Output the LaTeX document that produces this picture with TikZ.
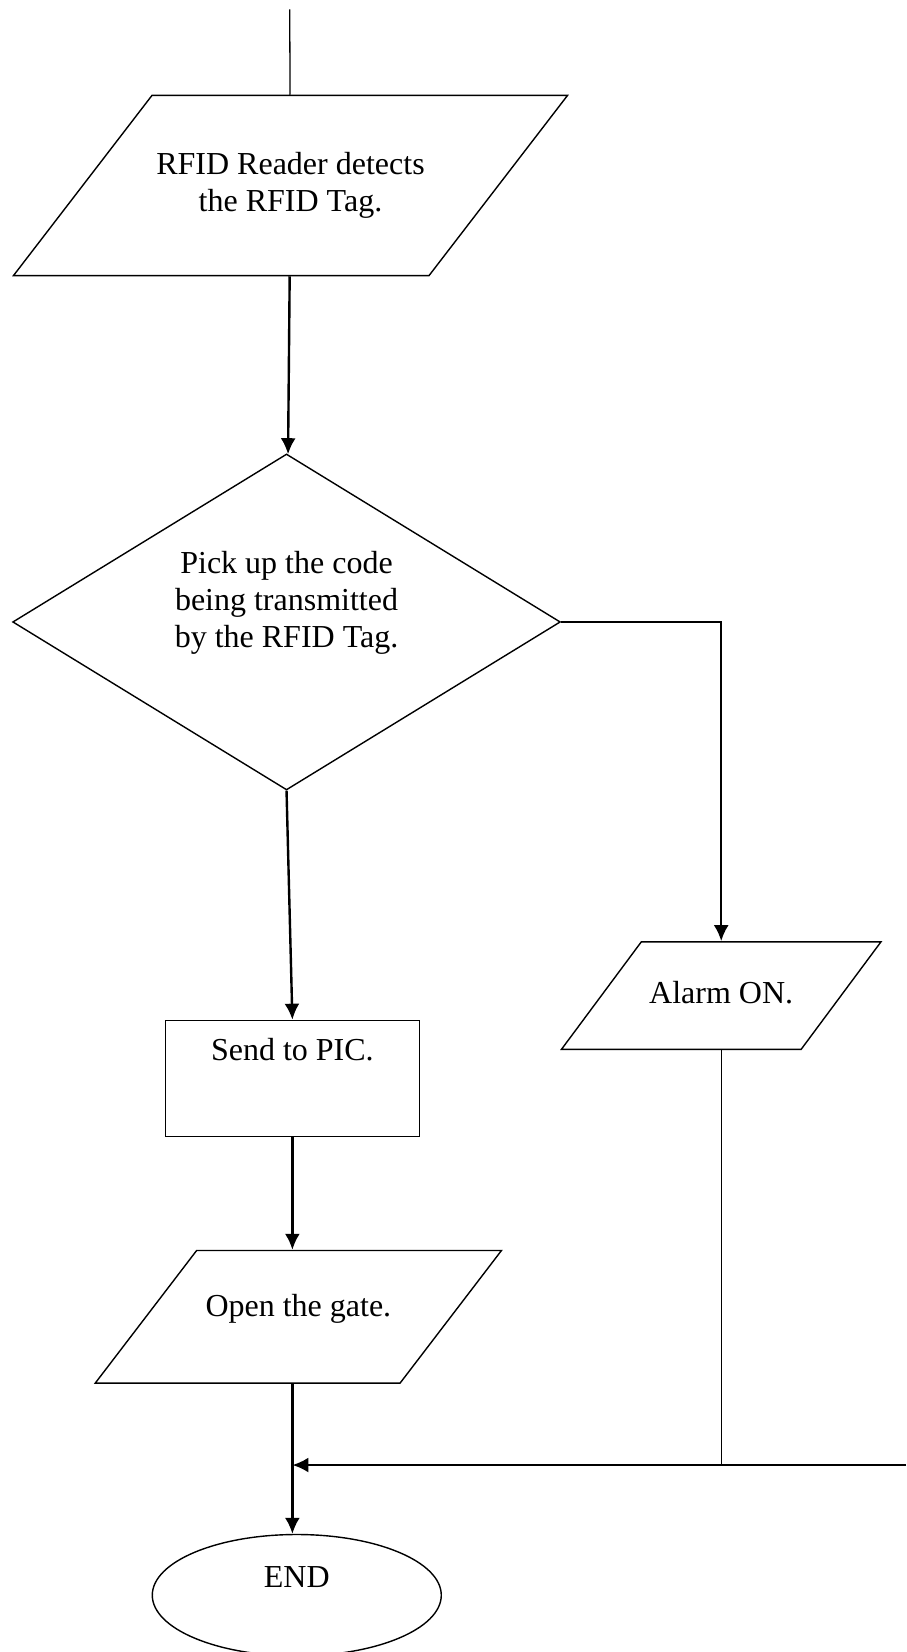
\documentclass[tikz,border=0pt]{standalone}
\usepackage{fontspec}
\setmainfont{Liberation Serif}
\usetikzlibrary{arrows.meta, positioning, shapes.geometric}

\begin{document}
\begin{tikzpicture}[
  x=1pt, y=1pt,
  every node/.style={font=\fontsize{32}{37}\selectfont, align=center, inner sep=4pt, line width=1.4pt},
  io/.style={draw, trapezium, trapezium stretches body},
  decision/.style={draw, diamond, aspect=1.63},
  process/.style={draw, rectangle},
  terminal/.style={draw, ellipse},
  arrow/.style={-{Latex[length=16pt, width=15pt]}, line width=2.4pt},
  link/.style={line width=1.3pt}
]
\path[use as bounding box, fill=white] (0,0) rectangle (906,-1652);

\coordinate (start) at (289.7,-9.3);
\node (reader) [io, trapezium left angle=52.45, trapezium right angle=127.55, minimum width=554pt, inner ysep=57pt] at (290.5,-185.5) {RFID Reader detects\\the RFID Tag.};
\node (pickup) [decision, minimum width=547.7pt, minimum height=336pt, text depth=46pt, below=177pt of reader, xshift=-4pt] {Pick up the code\\being transmitted\\by the RFID Tag.};
\node (send) [process, minimum width=254pt, minimum height=116pt, text depth=58pt, below=229pt of pickup, xshift=5.85pt] {Send to PIC.};
\node (gate) [io, trapezium left angle=52.6, trapezium right angle=127.4, minimum width=406.2pt, inner ysep=0pt, text height=66.1pt, text depth=66.5pt, below=112.7pt of send, xshift=6pt] {Open the gate.};
\node (finish) [terminal, minimum width=289pt, minimum height=121.4pt, text depth=37pt, below=150pt of gate, xshift=-1.6pt] {END};
\node (alarm) [io, trapezium left angle=53.4, trapezium right angle=126.6, minimum width=319.5pt, inner ysep=0pt, text height=61.4pt, text depth=46.1pt] at (721.2,-995.6) {Alarm ON.};
\coordinate (merge) at (906,-1465);

\draw[link] (start) -- (reader);
\draw[arrow] (reader) -- (pickup);
\draw[arrow] (pickup.east) -| (alarm.north);
\draw[arrow] (pickup.south) -- (send.north);
\draw[arrow] (send.south) -- (send.south |- gate.north);
\draw[arrow] (send |- gate.south) -- (send |- finish.north);
\draw[link] (alarm.south) -- (alarm.south |- merge);
\draw[arrow] (merge) -- (send |- merge);

\end{tikzpicture}
\end{document}
